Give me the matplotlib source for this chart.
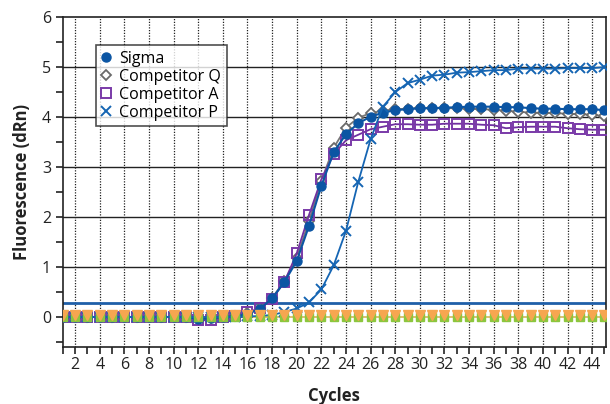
import matplotlib.pyplot as plt
import numpy as np
from matplotlib.ticker import MultipleLocator

plt.rcParams['font.family'] = ['Open Sans', 'DejaVu Sans']

cycles = np.arange(1, 46)

sigma = [0.0, 0.0, 0.0, 0.0, 0.0, 0.0, 0.0, 0.0, 0.0, 0.0,
         0.0, -0.04, -0.03, 0.0, 0.01, 0.06, 0.16, 0.37, 0.7, 1.12,
         1.82, 2.62, 3.29, 3.65, 3.87, 4.0, 4.08, 4.13, 4.15, 4.17,
         4.17, 4.18, 4.19, 4.2, 4.2, 4.2, 4.19, 4.19, 4.17, 4.16,
         4.16, 4.15, 4.15, 4.15, 4.13]
comp_q = [0.0, 0.0, 0.0, 0.0, 0.0, 0.0, 0.0, 0.0, 0.0, 0.0,
          0.0, -0.03, -0.03, 0.0, 0.01, 0.07, 0.17, 0.38, 0.72, 1.18,
          1.92, 2.72, 3.38, 3.78, 3.98, 4.07, 4.12, 4.15, 4.16, 4.17,
          4.17, 4.17, 4.17, 4.16, 4.15, 4.14, 4.12, 4.1, 4.08, 4.08,
          4.07, 4.06, 4.05, 4.04, 4.01]
comp_a = [0.0, 0.0, 0.0, 0.0, 0.0, 0.0, 0.0, 0.0, 0.0, 0.0,
          0.0, -0.07, -0.06, 0.0, 0.01, 0.1, 0.17, 0.36, 0.7, 1.27,
          2.04, 2.75, 3.25, 3.53, 3.64, 3.75, 3.8, 3.85, 3.85, 3.84,
          3.84, 3.86, 3.86, 3.86, 3.84, 3.83, 3.77, 3.79, 3.8, 3.8,
          3.8, 3.77, 3.75, 3.74, 3.74]
comp_p = [0.0, 0.0, 0.0, 0.0, 0.0, 0.0, 0.0, 0.0, 0.0, 0.0,
          0.0, 0.0, 0.0, 0.0, 0.0, 0.01, 0.02, 0.04, 0.1, 0.17,
          0.29, 0.55, 1.03, 1.72, 2.7, 3.55, 4.2, 4.49, 4.67, 4.74,
          4.82, 4.84, 4.88, 4.89, 4.91, 4.93, 4.93, 4.96, 4.96, 4.96,
          4.96, 4.97, 4.97, 4.97, 4.99]
# no-template controls sitting on the baseline
ntc_green = [0.0] * 45
ntc_orange = [0.03] * 45
threshold = 0.27

fig = plt.figure(figsize=(6.1, 4.04), dpi=100)
ax = fig.add_axes([0.103, 0.141, 0.890, 0.818])

# grid: solid at whole units, dotted at even cycles
for yv in range(1, 6):
    ax.axhline(yv, color='#222222', lw=1.0, zorder=1)
for xv in range(2, 46, 2):
    ax.axvline(xv, color='#222222', lw=0.9, ls=(0, (1, 1.2)), zorder=1)

ax.axhline(threshold, color='#1f5fa8', lw=2.0, zorder=2)
ax.plot(cycles, [0.0] * 45, color='#d8b45a', lw=1.2, zorder=2)

ax.plot(cycles, comp_q, color='#777777', lw=1.3, marker='D', ms=5.5,
        mfc='white', mec='#6a6a6a', mew=1.3, label='Competitor Q', zorder=3)
ax.plot(cycles, comp_a, color='#7030a0', lw=1.3, marker='s', ms=7,
        mfc='none', mec='#7a3aa8', mew=1.4, label='Competitor A', zorder=4)
ax.plot(cycles, sigma, color='#0b55a3', lw=1.5, marker='o', ms=6.5,
        mfc='#0b55a3', mec='#0b55a3', label='Sigma', zorder=5)
ax.plot(cycles, comp_p, color='#1565b3', lw=1.3, marker='x', ms=7,
        mew=1.4, label='Competitor P', zorder=5)
ax.plot(cycles, ntc_green, ls='none', marker='s', ms=6,
        mfc='#8cc63e', mec='#8cc63e', zorder=6)
ax.plot(cycles, ntc_orange, ls='none', marker='v', ms=7,
        mfc='#f6a650', mec='#f6a650', zorder=7)

ax.set_xlim(1, 45.1)
ax.set_ylim(-0.6, 6)
ax.xaxis.set_major_locator(MultipleLocator(2))
ax.xaxis.set_minor_locator(MultipleLocator(1))
ax.yaxis.set_major_locator(MultipleLocator(1))
ax.yaxis.set_minor_locator(MultipleLocator(0.5))
ax.set_yticks(range(0, 7))
ax.tick_params(axis='both', which='both', direction='out', length=5,
               width=1.2, color='#222222', labelsize=11.5, labelcolor='#222222')
ax.tick_params(axis='x', pad=2)

for s in ax.spines.values():
    s.set_color('#222222')
    s.set_linewidth(1.2)

ax.set_xlabel('Cycles', fontsize=12, fontweight='bold', color='#222222', labelpad=10)
ax.set_ylabel('Fluorescence (dRn)', fontsize=12, fontweight='bold', color='#222222', labelpad=8)

handles, labels = ax.get_legend_handles_labels()
order = [2, 0, 1, 3]
leg = ax.legend([handles[i] for i in order], [labels[i] for i in order],
                loc='upper left', bbox_to_anchor=(0.061, 0.913), fontsize=11.5,
                frameon=True, fancybox=False, edgecolor='#222222',
                handlelength=0.6, handletextpad=0.5, borderpad=0.35,
                labelspacing=0.12, borderaxespad=0)
leg.get_frame().set_linewidth(1.2)
for h in leg.legend_handles:
    h.set_linestyle('none')
leg.set_zorder(10)

fig.savefig('out.png', dpi=100)
